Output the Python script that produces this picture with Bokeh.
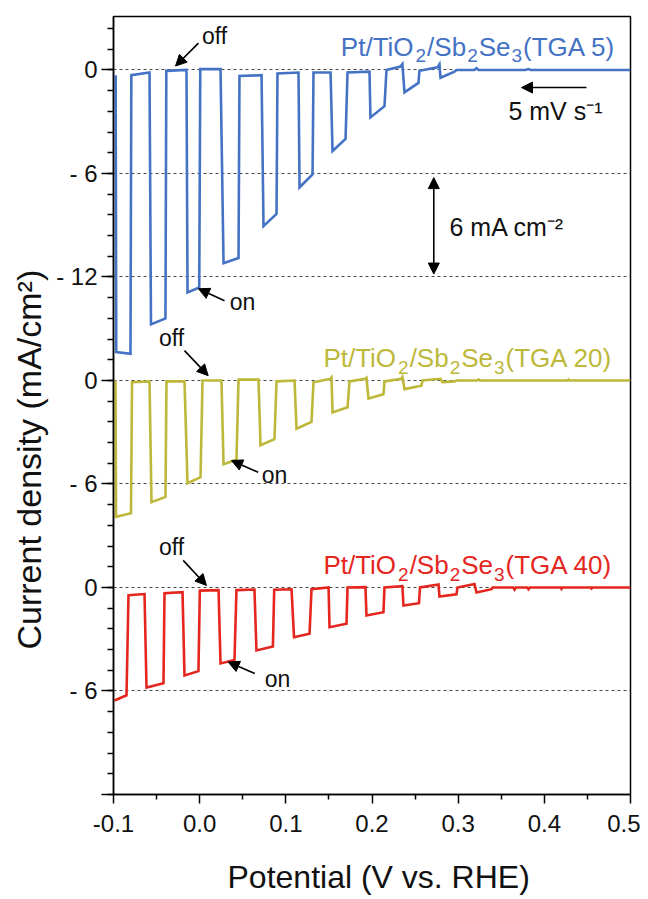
import math
from bokeh.plotting import figure
from bokeh.models import FixedTicker, Label, Arrow, NormalHead, Title
from bokeh.embed import file_html
from bokeh.resources import INLINE

# ---------------- data (potential V vs RHE, current density mA/cm2) ----------------
blue_v = [-0.0975, -0.0968, -0.0803, -0.0793, -0.0582, -0.0565, -0.0397, -0.0387, -0.0153, -0.0141,
          -0.0005, 0.0007, 0.0242, 0.0277, 0.0451, 0.0462, 0.0718, 0.0741, 0.0892, 0.0903,
          0.1147, 0.1159, 0.1310, 0.1321, 0.1519, 0.1542, 0.1693, 0.1716, 0.1971, 0.1982,
          0.2145, 0.2168, 0.2330, 0.2353, 0.2377, 0.2539, 0.2551, 0.2760, 0.2783, 0.2795,
          0.2957, 0.2980, 0.3189, 0.3213, 0.3236, 0.3780, 0.3816, 0.3840, 0.5]
blue_j = [-0.3, -16.35, -16.45, -0.3, -0.15, -14.75, -14.4, -0.05, 0.0, -12.9,
          -12.6, 0.05, 0.05, -11.2, -10.9, -0.35, -0.3, -9.05, -8.35, -0.2,
          -0.15, -6.8, -6.05, -0.15, -0.15, -4.7, -4.0, -0.15, -0.1, -2.75,
          -2.1, 0.0, 0.2, 0.35, -1.3, -0.75, -0.05, 0.15, 0.33, -0.45,
          -0.1, 0.0, 0.0, 0.1, 0.0, 0.0, 0.05, 0.0, 0.0]

yellow_v = [-0.0977, -0.0970, -0.0797, -0.0785, -0.0582, -0.0559, -0.0397, -0.0385, -0.0176, -0.0141,
            0.0010, 0.0033, 0.0253, 0.0277, 0.0427, 0.0451, 0.0683, 0.0706, 0.0868, 0.0892,
            0.1101, 0.1124, 0.1298, 0.1321, 0.1519, 0.1530, 0.1542, 0.1716, 0.1739, 0.1924,
            0.1936, 0.1959, 0.2133, 0.2145, 0.2342, 0.2353, 0.2377, 0.2574, 0.2586, 0.2795,
            0.2818, 0.2957, 0.2980, 0.3220, 0.3236, 0.3250, 0.4270, 0.4280, 0.4290, 0.5]
yellow_j = [0.0, -7.9, -7.7, -0.1, -0.05, -7.05, -6.75, -0.05, -0.05, -5.95,
            -5.6, 0.0, 0.0, -4.85, -4.6, 0.05, 0.05, -3.75, -3.4, -0.05,
            0.0, -2.8, -2.4, -0.1, 0.1, 0.17, -1.85, -1.55, -0.05, 0.1,
            0.15, -1.05, -0.8, -0.05, 0.1, 0.2, -0.5, -0.3, 0.0, 0.1,
            -0.1, -0.05, 0.0, 0.0, 0.06, 0.0, 0.0, 0.05, 0.0, 0.0]

red_v = [-0.0988, -0.0849, -0.0826, -0.0640, -0.0617, -0.0420, -0.0408, -0.0199, -0.0176, -0.0014,
         0.0002, 0.0219, 0.0242, 0.0404, 0.0427, 0.0636, 0.0659, 0.0850, 0.0865, 0.1066,
         0.1095, 0.1275, 0.1298, 0.1496, 0.1507, 0.1704, 0.1716, 0.1924, 0.1936, 0.2133,
         0.2145, 0.2353, 0.2365, 0.2545, 0.2557, 0.2772, 0.2783, 0.2980, 0.2992, 0.3189,
         0.3213, 0.3387, 0.3400, 0.3640, 0.3654, 0.3670, 0.3800, 0.3816, 0.3830, 0.4190,
         0.4199, 0.4210, 0.4540, 0.4547, 0.4560, 0.5]
red_j = [-6.55, -6.25, -0.45, -0.38, -5.8, -5.55, -0.33, -0.27, -5.1, -4.85,
         -0.18, -0.15, -4.4, -4.2, -0.15, -0.12, -3.65, -3.42, -0.13, -0.1,
         -2.88, -2.68, -0.1, 0.0, -2.3, -2.1, 0.0, 0.02, -1.62, -1.43,
         0.0, 0.08, -1.04, -0.91, 0.0, 0.17, -0.52, -0.4, 0.0, 0.2,
         -0.29, -0.1, 0.0, 0.0, -0.12, 0.0, 0.0, -0.1, 0.0, 0.0,
         -0.08, 0.0, 0.0, -0.06, 0.0, 0.0]

# sample labels as (text, is_subscript) pieces
label_blue = [("Pt/TiO", False), ("2", True), ("/Sb", False), ("2", True), ("Se", False), ("3", True), ("(TGA 5)", False)]
label_yellow = [("Pt/TiO", False), ("2", True), ("/Sb", False), ("2", True), ("Se", False), ("3", True), ("(TGA 20)", False)]
label_red = [("Pt/TiO", False), ("2", True), ("/Sb", False), ("2", True), ("Se", False), ("3", True), ("(TGA 40)", False)]
series_offsets = [0, -18, -30]
series_colors = ["#4472C4", "#BDB83A", "#E5261F"]

x_ticks = [-0.1, 0.0, 0.1, 0.2, 0.3, 0.4, 0.5]
x_tick_labels = ["-0.1", "0.0", "0.1", "0.2", "0.3", "0.4", "0.5"]
x_minor = [-0.05, 0.05, 0.15, 0.25, 0.35, 0.45]
y_ticks = [0, -6, -12, -18, -24, -30, -36, -42]
y_tick_labels = ["0", "- 6", "- 12", "0", "- 6", "0", "- 6", ""]
grid_levels = [0, -6, -12, -18, -24, -30, -36]
y_minor_step = 1.2

x_title = "Potential (V vs. RHE)"
y_title = "Current density (mA/cm\u00b2)"

FONT = "Liberation Sans"
# Arial / Liberation Sans advance widths (1/1000 em), used to lay out sub-scripted labels
ADV = {"P": 667, "t": 278, "/": 278, "T": 611, "i": 222, "O": 778, "S": 667, "b": 556,
       "e": 556, "(": 333, ")": 333, "G": 778, "A": 667, " ": 278}
for d in "0123456789":
    ADV[d] = 556

p = figure(width=640, height=898, x_range=(-0.1, 0.5), y_range=(-42, 3.1),
           output_backend="svg", toolbar_location=None,
           min_border_left=113, min_border_right=10, min_border_top=16, min_border_bottom=104)
p.background_fill_color = "white"
p.border_fill_color = "white"
p.outline_line_color = "black"
p.outline_line_width = 1.5

# curves
curves = [(blue_v, blue_j), (yellow_v, yellow_j), (red_v, red_j)]
for (vv, jj), off, col in zip(curves, series_offsets, series_colors):
    p.line(list(vv), [j + off for j in jj], line_color=col, line_width=2.6, line_join="miter")

# axes
p.xaxis.ticker = FixedTicker(ticks=x_ticks, minor_ticks=x_minor)
p.xaxis.major_label_overrides = {t: l for t, l in zip(x_ticks, x_tick_labels)}
y_minor = [round(-42 + k * y_minor_step, 2) for k in range(0, 38)]
p.yaxis.ticker = FixedTicker(ticks=y_ticks, minor_ticks=y_minor)
p.yaxis.major_label_overrides = {t: l for t, l in zip(y_ticks, y_tick_labels)}

for ax in (p.xaxis[0], p.yaxis[0]):
    ax.axis_line_width = 1.5
    ax.axis_line_color = "black"
    ax.major_tick_line_width = 1.5
    ax.minor_tick_line_width = 1.5
    ax.major_tick_line_color = "black"
    ax.minor_tick_line_color = "black"
    ax.major_tick_in = 0
    ax.minor_tick_in = 0
    ax.major_label_text_font = FONT
    ax.major_label_text_font_size = "24px"
    ax.major_label_text_color = "#111111"

p.xaxis.major_tick_out = 9
p.xaxis.minor_tick_out = 5
p.yaxis.major_tick_out = 12
p.yaxis.minor_tick_out = 6
p.xaxis.major_label_standoff = 11
p.yaxis.major_label_standoff = 4

p.xgrid.visible = False
p.ygrid.ticker = FixedTicker(ticks=grid_levels)
p.ygrid.grid_line_color = "#444444"
p.ygrid.grid_line_width = 1.2
p.ygrid.grid_line_dash = "3 3"

# axis titles as side-panel titles (allow off-centre placement like the original)
p.add_layout(Title(text=" ", text_font=FONT, text_font_size="18px", standoff=0), "below")  # spacer
p.add_layout(Title(text=x_title, align="left", offset=114, standoff=0,
                   text_font=FONT, text_font_size="32px", text_font_style="normal",
                   text_line_height=1.0, text_color="#111111"), "below")
p.add_layout(Title(text=y_title, align="left", offset=145, standoff=12,
                   text_font=FONT, text_font_size="34px", text_font_style="normal",
                   text_line_height=1.0, text_color="#111111"), "left")

# series labels with real subscripts
def rich_label(x, y, pieces, color, main=26, sub=19, sub_drop=9, pad=1.0):
    widths = []
    for txt, is_sub in pieces:
        size = sub if is_sub else main
        widths.append(sum(ADV[c] for c in txt) * size / 1000.0 + (2 * pad if is_sub else 0))
    cur = -sum(widths)
    for (txt, is_sub), w in zip(pieces, widths):
        p.add_layout(Label(x=x, y=y, x_offset=cur + (pad if is_sub else 0),
                           y_offset=-sub_drop if is_sub else 0, text=txt,
                           text_align="left", text_baseline="middle", text_font=FONT,
                           text_font_size=f"{sub if is_sub else main}px", text_color=color))
        cur += w

label_pos = [(0.4826, 1.36), (0.4791, -16.72), (0.4791, -28.70)]
for pieces, (lx, ly), col in zip([label_blue, label_yellow, label_red], label_pos, series_colors):
    rich_label(lx, ly, pieces, col)

# on / off annotations
def note(txt, tx, ty, x0, y0, x1, y1):
    p.add_layout(Label(x=tx, y=ty, text=txt, text_align="center", text_baseline="middle",
                       text_font=FONT, text_font_size="23px", text_color="#111111"))
    p.add_layout(Arrow(end=NormalHead(size=11, fill_color="black", line_color="black"),
                       x_start=x0, y_start=y0, x_end=x1, y_end=y1,
                       line_color="black", line_width=1.6))

note("off", 0.0172, 1.97, -0.0014, 1.56, -0.028, 0.23)
note("on", 0.0497, -13.43, 0.0288, -13.38, -0.0014, -12.68)
note("off", -0.0327, -15.52, -0.0176, -16.27, 0.0099, -17.72)
note("on", 0.0868, -23.45, 0.0679, -23.32, 0.0369, -22.64)
note("off", -0.0327, -27.68, -0.0191, -28.43, 0.0079, -29.88)
note("on", 0.0903, -35.32, 0.0640, -34.99, 0.0331, -34.32)

# scan-rate arrow
p.add_layout(Arrow(end=NormalHead(size=11, fill_color="black", line_color="black"),
                   x_start=0.4489, y_start=-1.02, x_end=0.3735, y_end=-1.02,
                   line_color="black", line_width=1.6))
p.add_layout(Label(x=0.4129, y=-2.37, text="5 mV s\u207b\u00b9", text_align="center",
                   text_baseline="middle", text_font=FONT, text_font_size="25px",
                   text_color="#111111"))

# scale bar
p.add_layout(Arrow(start=NormalHead(size=11, fill_color="black", line_color="black"),
                   end=NormalHead(size=11, fill_color="black", line_color="black"),
                   x_start=0.2717, y_start=-6.24, x_end=0.2717, y_end=-11.83,
                   line_color="black", line_width=1.6))
p.add_layout(Label(x=0.2899, y=-9.09, text="6 mA cm\u207b\u00b2", text_align="left",
                   text_baseline="middle", text_font=FONT, text_font_size="25px",
                   text_color="#111111"))

open("out.html", "w").write(file_html(p, INLINE))
